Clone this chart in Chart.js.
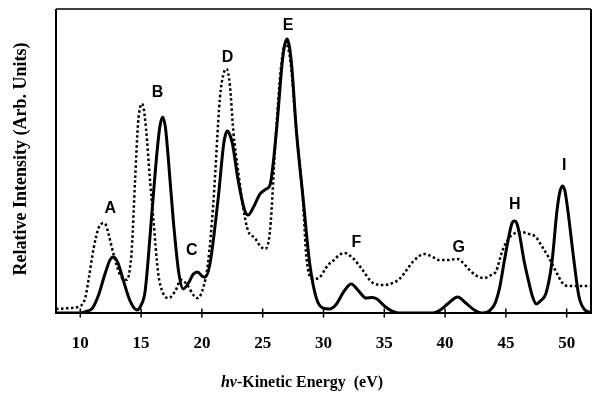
<!DOCTYPE html>
<html>
<head>
<meta charset="utf-8">
<script src="https://cdn.jsdelivr.net/npm/chart.js@4/dist/chart.umd.min.js"></script>
<style>
html,body{margin:0;padding:0;background:#fff;}
#wrap{width:593px;height:395px;position:relative;}
</style>
</head>
<body>
<div id="wrap"><canvas id="c" width="593" height="395"></canvas></div>
<script>
// X tick labels (eV)
const tickValues = [10, 15, 20, 25, 30, 35, 40, 45, 50];

// Solid curve (eV, relative intensity)
const solidX = [8.0, 10.0, 10.5, 11.0, 11.5, 12.0, 12.4, 12.55, 12.73, 12.9, 13.1, 13.6, 14.1, 14.65, 15.0, 15.33, 15.88, 16.3, 16.55, 16.78, 17.0, 17.2, 17.65, 18.1, 18.47, 18.9, 19.3, 19.65, 20.0, 20.25, 20.66, 21.34, 21.8, 21.95, 22.1, 22.3, 22.5, 22.99, 23.53, 23.8, 24.2, 24.77, 25.3, 25.6, 26.13, 26.6, 26.8, 27.0, 27.2, 27.4, 27.77, 28.32, 28.87, 29.41, 29.96, 30.5, 31.0, 31.7, 32.28, 32.9, 33.5, 34.0, 34.4, 35.0, 35.6, 36.2, 39.0, 39.5, 40.3, 41.03, 41.7, 42.4, 43.1, 43.7, 44.1, 44.5, 44.87, 45.3, 45.5, 45.7, 45.9, 46.1, 46.5, 46.9, 47.2, 47.5, 47.85, 48.3, 48.8, 49.2, 49.45, 49.65, 49.85, 50.1, 50.6, 51.0, 51.45, 52.0];
const solidY = [0, 0, 0.5, 1.6, 5.9, 12.5, 17.1, 18.1, 18.4, 17.9, 16.4, 9.9, 3.9, 1.0, 2.6, 7.2, 32.6, 52.6, 61.5, 64.5, 61.0, 52.6, 30.3, 13.2, 7.9, 9.9, 12.8, 13.5, 12.2, 11.8, 16.1, 37.8, 55.9, 58.8, 59.9, 58.6, 55.9, 43.4, 33.6, 32.2, 34.5, 39.1, 40.8, 42.1, 59.9, 82.2, 88.0, 90.1, 87.5, 80.6, 59.9, 37.8, 16.1, 4.9, 1.6, 1.3, 2.6, 7.2, 9.5, 7.2, 4.9, 5.1, 4.6, 2.3, 0.7, 0, 0, 0.7, 3.3, 5.3, 3.3, 1.0, 0, 0.9, 3.1, 8.6, 17.1, 26.3, 29.5, 30.3, 29.5, 26.3, 17.1, 9.9, 5.3, 3.0, 4.0, 6.5, 17.1, 33.6, 40.0, 41.8, 40.3, 33.6, 17.1, 5.6, 1.2, 0.2];

// Dotted curve (eV, relative intensity)
const dottedX = [8.0, 9.0, 10.0, 10.4, 10.7, 11.1, 11.5, 11.7, 11.9, 12.1, 12.3, 12.73, 13.2, 13.55, 13.85, 14.05, 14.24, 14.5, 14.75, 14.9, 15.06, 15.2, 15.4, 15.75, 16.0, 16.4, 16.8, 17.25, 17.8, 18.3, 18.8, 19.3, 19.65, 20.1, 20.5, 20.94, 21.48, 21.75, 22.03, 22.3, 22.58, 23.0, 23.4, 23.8, 24.36, 24.8, 25.18, 25.6, 26.1, 26.5, 26.7, 26.9, 27.1, 27.3, 27.75, 28.3, 28.6, 29.14, 29.6, 30.37, 30.78, 31.3, 31.74, 32.4, 33.1, 34.06, 35.0, 35.7, 36.25, 36.9, 37.34, 38.3, 39.0, 39.5, 40.2, 41.0, 41.5, 41.85, 42.5, 43.2, 43.8, 44.2, 44.6, 44.87, 45.4, 46.23, 46.9, 47.46, 48.0, 48.55, 49.1, 49.65, 50.1, 50.47, 51.2, 52.0];
const dottedY = [1.3, 1.6, 2.3, 4.9, 11.5, 21.4, 28.0, 29.2, 29.6, 29.0, 26.3, 19.4, 13.2, 11.2, 10.9, 13.8, 21.4, 43.4, 62.5, 67.3, 68.8, 67.5, 60.9, 42.8, 31.3, 13.2, 6.6, 4.9, 7.2, 10.9, 9.2, 5.9, 4.9, 8.2, 16.4, 36.2, 70.7, 78.2, 80.3, 75.0, 59.9, 46.1, 34.5, 27.0, 24.7, 22.0, 21.1, 27.0, 59.9, 80.6, 86.5, 88.8, 87.0, 82.2, 60.9, 37.8, 18.1, 11.2, 11.5, 15.8, 17.1, 19.1, 19.7, 18.1, 14.8, 9.9, 9.2, 9.9, 11.2, 14.5, 16.8, 19.4, 18.4, 17.4, 17.4, 17.8, 16.4, 14.8, 12.5, 11.5, 12.5, 13.8, 19.1, 22.0, 25.3, 26.6, 26.0, 25.0, 21.7, 18.1, 13.8, 9.9, 8.9, 8.9, 8.9, 8.9];

// Peak labels
const peakLabels = ['A', 'B', 'C', 'D', 'E', 'F', 'G', 'H', 'I'];
const peakLabelX = [12.46, 16.34, 19.16, 22.11, 27.09, 32.7, 41.12, 45.74, 49.79];
const peakLabelY = [34.5, 72.4, 20.4, 83.9, 94.7, 23.1, 21.5, 35.5, 48.4];

const yTitle = 'Relative Intensity (Arb. Units)';
const xTitleItalic = 'hν';
const xTitleRest = '-Kinetic Energy  (eV)';

const toPts = (xs, ys) => xs.map((x, i) => ({x: x, y: ys[i]}));

const decor = {
  id: 'decor',
  afterDatasetsDraw(chart) {
    const ctx = chart.ctx, a = chart.chartArea;
    const xs = chart.scales.x, ys = chart.scales.y;
    ctx.save();
    ctx.strokeStyle = '#000';
    ctx.lineCap = 'butt';
    // frame
    ctx.lineWidth = 2;
    ctx.beginPath();
    ctx.moveTo(a.left, a.top); ctx.lineTo(a.left, a.bottom); ctx.lineTo(a.right, a.bottom); ctx.lineTo(a.right, a.top);
    ctx.stroke();
    ctx.lineWidth = 1.5;
    ctx.beginPath(); ctx.moveTo(a.left, a.top); ctx.lineTo(a.right, a.top); ctx.stroke();
    // ticks crossing the bottom axis
    ctx.lineWidth = 1.5;
    tickValues.forEach(v => {
      const px = xs.getPixelForValue(v);
      ctx.beginPath(); ctx.moveTo(px, a.bottom - 4.5); ctx.lineTo(px, a.bottom + 4.5); ctx.stroke();
    });
    // peak labels
    ctx.fillStyle = '#000';
    ctx.font = 'bold 16px "Liberation Sans", Arial, sans-serif';
    ctx.textAlign = 'center';
    ctx.textBaseline = 'middle';
    peakLabels.forEach((t, i) => {
      ctx.fillText(t, xs.getPixelForValue(peakLabelX[i]), ys.getPixelForValue(peakLabelY[i]));
    });
    // y title
    ctx.save();
    ctx.translate(21.5, 159);
    ctx.rotate(-Math.PI / 2);
    ctx.font = 'bold 18px "Liberation Serif", "Times New Roman", serif';
    ctx.fillText(yTitle, 0, 0);
    ctx.restore();
    // x title with italic h-nu
    const fI = 'italic bold 16px "Liberation Serif", "Times New Roman", serif';
    const fB = 'bold 16px "Liberation Serif", "Times New Roman", serif';
    ctx.font = fI; const w1 = ctx.measureText(xTitleItalic).width;
    ctx.font = fB; const w2 = ctx.measureText(xTitleRest).width;
    const cx = 302, cy = 383;
    let x0 = cx - (w1 + w2) / 2;
    ctx.textAlign = 'left';
    ctx.font = fI; ctx.fillText(xTitleItalic, x0, cy);
    ctx.font = fB; ctx.fillText(xTitleRest, x0 + w1, cy);
    ctx.restore();
  }
};

new Chart(document.getElementById('c'), {
  type: 'line',
  data: {
    datasets: [
      {
        label: 'Solid',
        data: toPts(solidX, solidY),
        borderColor: '#000',
        borderWidth: 3,
        pointRadius: 0,
        fill: false,
        cubicInterpolationMode: 'monotone'
      },
      {
        label: 'Dotted',
        data: toPts(dottedX, dottedY),
        borderColor: '#000',
        borderWidth: 2.5,
        borderDash: [2.5, 2.5],
        pointRadius: 0,
        fill: false,
        cubicInterpolationMode: 'monotone'
      }
    ]
  },
  options: {
    responsive: false,
    animation: false,
    devicePixelRatio: 1,
    layout: {padding: {top: 9, right: 2, left: 0, bottom: 0}},
    plugins: {legend: {display: false}, tooltip: {enabled: false}, title: {display: false}},
    scales: {
      x: {
        type: 'linear',
        min: 8, max: 52,
        afterBuildTicks: s => { s.ticks = tickValues.map(v => ({value: v})); },
        afterFit: s => { s.height = 82; },
        grid: {display: false},
        border: {display: false},
        ticks: {
          color: '#000',
          padding: 12,
          maxRotation: 0,
          autoSkip: false,
          font: {family: '"Liberation Serif", "Times New Roman", serif', size: 17, weight: 'bold'}
        }
      },
      y: {
        min: 0, max: 100,
        afterFit: s => { s.width = 56; },
        grid: {display: false},
        border: {display: false},
        ticks: {display: false}
      }
    }
  },
  plugins: [decor]
});
</script>
</body>
</html>
